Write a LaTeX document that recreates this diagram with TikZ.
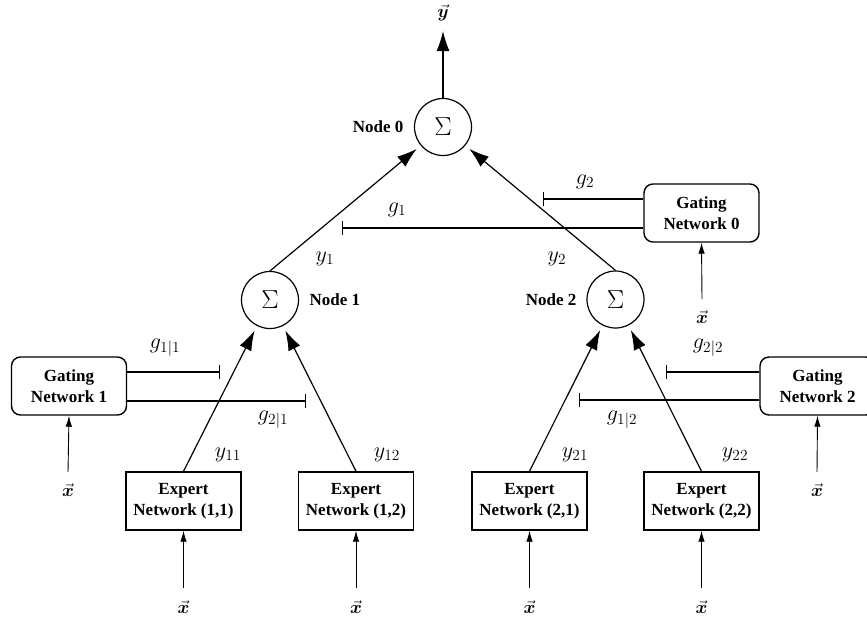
\RequirePackage{fix-cm}
\documentclass[tikz,border=0pt]{standalone}
\usepackage[no-math]{fontspec}
\setmainfont{Liberation Serif}
\usepackage{bm}
\usetikzlibrary{arrows.meta}
\begin{document}
\begin{tikzpicture}[x=1pt,y=-1pt,
  lbl/.style={font=\fontsize{17}{21}\selectfont\bfseries},
  mlbl/.style={font=\fontsize{22}{25}\selectfont, inner sep=0pt},
  xlbl/.style={font=\fontsize{18}{20}\selectfont, inner sep=0pt},
  expbox/.style={draw, line width=1.4pt, minimum width=115pt, minimum height=58pt, inner sep=0pt, align=center, font=\fontsize{17}{21}\selectfont\bfseries},
  gatebox/.style={expbox, rounded corners=9pt},
  sumnode/.style={draw, circle, line width=1.2pt, minimum size=57pt, inner sep=0pt, font=\fontsize{26}{28}\selectfont},
  big/.style={line width=1.2pt, -{Latex[length=20pt,width=13pt]}, shorten >=5pt},
  small/.style={line width=0.9pt, -{Latex[length=11pt,width=6.5pt]}},
  gate/.style={line width=1.2pt, -{Bar[width=14pt,line width=1.2pt]}}
]
\useasboundingbox (0,0) rectangle (867,619);
\clip (0,0) rectangle (867,619);
% sum nodes
\node[sumnode] (n0) at (443,127) {$\Sigma$};
\node[sumnode] (n1) at (270,300) {$\Sigma$};
\node[sumnode] (n2) at (615.5,299.5) {$\Sigma$};
\node[lbl, anchor=east] (l0) at (407,127) {Node 0};
\node[lbl, anchor=west] (l1) at (306,300) {Node 1};
\node[lbl, anchor=east] (l2) at (580,300) {Node 2};
% gating boxes
\node[gatebox] (G0) at (701.5,213) {Gating\\Network 0};
\node[gatebox] (G1) at (69,386) {Gating\\Network 1};
\node[gatebox] (G2) at (817.5,386) {Gating\\Network 2};
% experts
\node[expbox] (E11) at (183.5,501) {Expert\\Network (1,1)};
\node[expbox] (E12) at (356,501) {Expert\\Network (1,2)};
\node[expbox] (E21) at (529.5,501) {Expert\\Network (2,1)};
\node[expbox] (E22) at (701.5,501) {Expert\\Network (2,2)};
% output
\node[xlbl] (yout) at (443,13) {$\vec{\bm y}$};
\coordinate (ytop) at (443,31);
\draw[big, shorten >=0pt] (n0.north) -- (ytop);
% connectors into node 0
\draw[big] (n1.north) -- (n0);
\draw[big] (n2.north) -- (n0);
% connectors into nodes 1,2
\draw[big] (E11.north) -- (n1);
\draw[big] (E12.north) -- (n1);
\draw[big] (E21.north) -- (n2);
\draw[big] (E22.north) -- (n2);
% gates
\coordinate (b2) at (543,199);
\coordinate (b1) at (342,228);
\draw[gate] (G0.west |- b2) -- (b2);
\draw[gate] (G0.west |- b1) -- (b1);
\coordinate (b11) at (220,372);
\coordinate (b21) at (306,401);
\draw[gate] (G1.east |- b11) -- (b11);
\draw[gate] (G1.east |- b21) -- (b21);
\coordinate (b22) at (666,372);
\coordinate (b12) at (579,400);
\draw[gate] (G2.west |- b22) -- (b22);
\draw[gate] (G2.west |- b12) -- (b12);
% math labels
\node[mlbl] (tg2) at (585,182) {$g_2$};
\node[mlbl] (tg1) at (397,210) {$g_1$};
\node[mlbl] (ty1) at (325,259) {$y_1$};
\node[mlbl] (ty2) at (557,259) {$y_2$};
\node[mlbl] (tg11) at (165,348) {$g_{1|1}$};
\node[mlbl] (tg21) at (273,420) {$g_{2|1}$};
\node[mlbl] (tg22) at (708,348) {$g_{2|2}$};
\node[mlbl] (tg12) at (622,420) {$g_{1|2}$};
\node[mlbl] (ty11) at (228,455) {$y_{11}$};
\node[mlbl] (ty12) at (387,455) {$y_{12}$};
\node[mlbl] (ty21) at (575,455) {$y_{21}$};
\node[mlbl] (ty22) at (735,455) {$y_{22}$};
% inputs
\node[xlbl] (x0) at (702,317) {$\vec{\bm x}$};
\node[xlbl] (x1) at (68,490) {$\vec{\bm x}$};
\node[xlbl] (x2) at (817,490) {$\vec{\bm x}$};
\node[xlbl] (x11) at (183.5,607) {$\vec{\bm x}$};
\node[xlbl] (x12) at (356,607) {$\vec{\bm x}$};
\node[xlbl] (x21) at (529.5,607) {$\vec{\bm x}$};
\node[xlbl] (x22) at (701.5,607) {$\vec{\bm x}$};
\coordinate (s0) at (702,299);
\coordinate (s1) at (68,472);
\coordinate (s2) at (817,472);
\coordinate (s11) at (183.5,588);
\coordinate (s12) at (356,588);
\coordinate (s21) at (529.5,588);
\coordinate (s22) at (701.5,588);
\draw[small] (s0) -- (G0.south);
\draw[small] (s1) -- (G1.south);
\draw[small] (s2) -- (G2.south);
\draw[small] (s11) -- (E11.south);
\draw[small] (s12) -- (E12.south);
\draw[small] (s21) -- (E21.south);
\draw[small] (s22) -- (E22.south);
\end{tikzpicture}
\end{document}
